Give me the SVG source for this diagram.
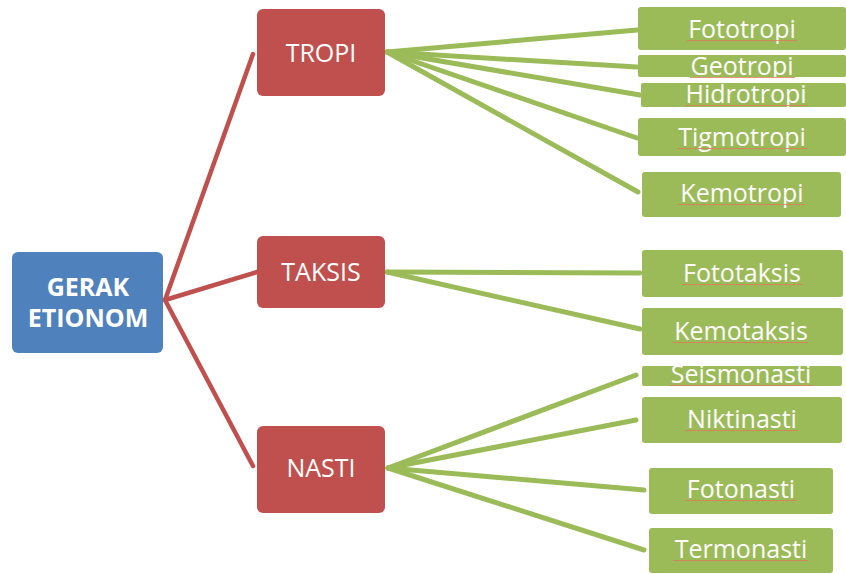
<svg xmlns="http://www.w3.org/2000/svg" width="846" height="574" viewBox="0 0 846 574">
<style>
.root{fill:#4f81bd}
.red{fill:#c0504d}
.grn{fill:#9bbb59}
.t{font-family:"Open Sans","Liberation Sans",sans-serif;fill:#ffffff;text-anchor:middle;font-size:25px}
.b{font-weight:bold;font-size:25px}
.rl{stroke:#c0504d;stroke-width:4.5;fill:none;stroke-linecap:round}
.gl{stroke:#9bbb59;stroke-width:5;fill:none;stroke-linecap:round}
.ul{stroke:#e07a5a;stroke-width:1;opacity:0.8}
</style>
<rect width="846" height="574" fill="#ffffff"/>
<g id="connectors">
<line class="rl" x1="165" y1="300" x2="253" y2="54"/>
<line class="rl" x1="165" y1="300" x2="257" y2="272"/>
<line class="rl" x1="165" y1="300" x2="253" y2="466"/>
<line class="gl" x1="387" y1="52" x2="637" y2="30"/>
<line class="gl" x1="387" y1="52" x2="637" y2="67"/>
<line class="gl" x1="387" y1="52" x2="640" y2="95"/>
<line class="gl" x1="387" y1="52" x2="637" y2="138"/>
<line class="gl" x1="387" y1="52" x2="638" y2="192"/>
<line class="gl" x1="387" y1="272" x2="640" y2="273"/>
<line class="gl" x1="387" y1="272" x2="640" y2="329"/>
<line class="gl" x1="388" y1="468" x2="636" y2="375"/>
<line class="gl" x1="388" y1="468" x2="636" y2="420"/>
<line class="gl" x1="388" y1="468" x2="644" y2="490"/>
<line class="gl" x1="388" y1="468" x2="644" y2="550"/>
</g>
<g id="gerak">
<rect class="root" x="12" y="252" width="151" height="101" rx="6"/>
<text class="t b" x="88" y="296">GERAK</text>
<text class="t b" x="88" y="327">ETIONOM</text>
</g>
<g id="tropi">
<rect class="red" x="257" y="9" width="128" height="87" rx="6"/>
<text class="t" x="321" y="62">TROPI</text>
</g>
<g id="taksis">
<rect class="red" x="257" y="236" width="128" height="72" rx="6"/>
<text class="t" x="321" y="281">TAKSIS</text>
</g>
<g id="nasti">
<rect class="red" x="257" y="426" width="128" height="87" rx="6"/>
<text class="t" x="321" y="477">NASTI</text>
</g>
<g id="fototropi">
<rect class="grn" x="638" y="7" width="208" height="43" rx="3"/>
<text class="t" x="742" y="38">Fototropi</text>
<line class="ul" x1="687" y1="40.5" x2="797" y2="40.5"/>
</g>
<g id="geotropi">
<rect class="grn" x="638" y="55" width="208" height="22" rx="2"/>
<text class="t" x="742" y="75">Geotropi</text>
<line class="ul" x1="690" y1="77.5" x2="795" y2="77.5"/>
</g>
<g id="hidrotropi">
<rect class="grn" x="641" y="83" width="205" height="24" rx="2"/>
<text class="t" x="746" y="103">Hidrotropi</text>
<line class="ul" x1="685" y1="105.5" x2="808" y2="105.5"/>
</g>
<g id="tigmotropi">
<rect class="grn" x="638" y="118" width="208" height="38" rx="3"/>
<text class="t" x="742" y="146">Tigmotropi</text>
<line class="ul" x1="677" y1="148.5" x2="808" y2="148.5"/>
</g>
<g id="kemotropi">
<rect class="grn" x="642" y="172" width="199" height="45" rx="3"/>
<text class="t" x="742" y="202">Kemotropi</text>
<line class="ul" x1="678" y1="204.5" x2="805" y2="204.5"/>
</g>
<g id="fototaksis">
<rect class="grn" x="642" y="250" width="201" height="47" rx="3"/>
<text class="t" x="742" y="282">Fototaksis</text>
<line class="ul" x1="682" y1="284.5" x2="803" y2="284.5"/>
</g>
<g id="kemotaksis">
<rect class="grn" x="642" y="308" width="201" height="47" rx="3"/>
<text class="t" x="741" y="340">Kemotaksis</text>
<line class="ul" x1="673" y1="342.5" x2="808" y2="342.5"/>
</g>
<g id="seismonasti">
<rect class="grn" x="642" y="366" width="200" height="20" rx="2"/>
<text class="t" x="741" y="383">Seismonasti</text>
<line class="ul" x1="670" y1="385.5" x2="813" y2="385.5"/>
</g>
<g id="niktinasti">
<rect class="grn" x="642" y="397" width="200" height="46" rx="3"/>
<text class="t" x="742" y="428">Niktinasti</text>
<line class="ul" x1="685" y1="430.5" x2="798" y2="430.5"/>
</g>
<g id="fotonasti">
<rect class="grn" x="649" y="468" width="184" height="46" rx="3"/>
<text class="t" x="741" y="498">Fotonasti</text>
<line class="ul" x1="685" y1="500.5" x2="797" y2="500.5"/>
</g>
<g id="termonasti">
<rect class="grn" x="649" y="528" width="184" height="45" rx="3"/>
<text class="t" x="741" y="558">Termonasti</text>
<line class="ul" x1="673" y1="560.5" x2="808" y2="560.5"/>
</g>
</svg>
